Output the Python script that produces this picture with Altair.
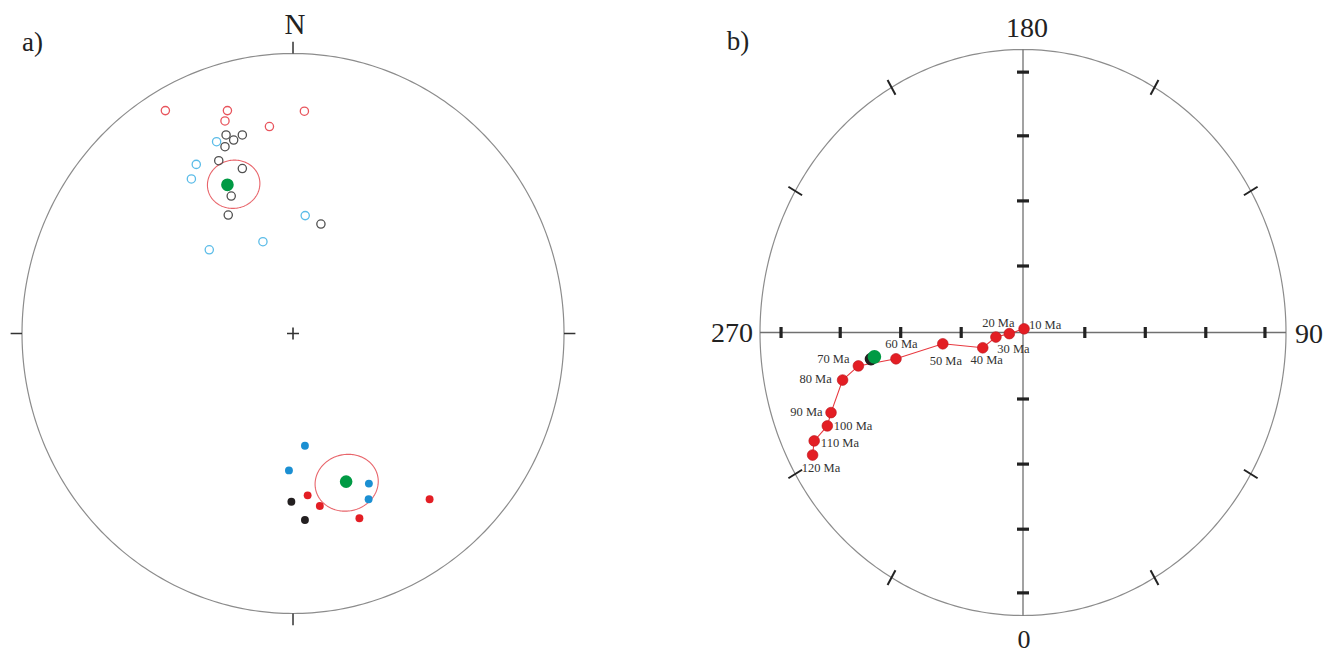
import altair as alt
import numpy as np
import pandas as pd

FONT = "Liberation Serif"

# ---------------- panel a) : site directions (projected coords, unit = net radius) ----
a_red_open_x = [-0.471, -0.242, -0.251, 0.042, -0.087]
a_red_open_y = [0.796, 0.796, 0.759, 0.794, 0.739]
a_gray_open_x = [-0.247, -0.219, -0.187, -0.251, -0.274, -0.187, -0.228, -0.239, 0.103]
a_gray_open_y = [0.709, 0.691, 0.709, 0.667, 0.617, 0.589, 0.491, 0.423, 0.391]
a_blue_open_x = [-0.282, -0.357, -0.375, 0.045, -0.111, -0.309]
a_blue_open_y = [0.685, 0.604, 0.552, 0.421, 0.328, 0.299]
a_blue_fill_x = [0.044, -0.015, 0.280, 0.279]
a_blue_fill_y = [-0.401, -0.489, -0.536, -0.592]
a_red_fill_x = [0.054, 0.099, 0.245, 0.504]
a_red_fill_y = [-0.578, -0.616, -0.660, -0.592]
a_black_fill_x = [-0.006, 0.044]
a_black_fill_y = [-0.601, -0.666]
a_mean_x = [-0.242, 0.196]
a_mean_y = [0.531, -0.529]
a_cone_cx = [-0.219, 0.198]
a_cone_cy = [0.533, -0.533]
a_cone_a = [0.097, 0.117]
a_cone_b = [0.086, 0.101]
a_cone_rot = [8, 10]

# ---------------- panel b) : path (projected coords) ----------------
b_ages = ["10 Ma", "20 Ma", "30 Ma", "40 Ma", "50 Ma", "60 Ma", "70 Ma",
          "80 Ma", "90 Ma", "100 Ma", "110 Ma", "120 Ma"]
b_x = [0.004, -0.052, -0.103, -0.153, -0.305, -0.483, -0.626, -0.686,
       -0.730, -0.744, -0.794, -0.800]
b_y = [0.013, -0.004, -0.016, -0.054, -0.040, -0.093, -0.118, -0.168,
       -0.283, -0.330, -0.383, -0.433]
b_mean_x = [-0.565]
b_mean_y = [-0.086]
b_shadow_x = [-0.578]
b_shadow_y = [-0.094]
b_axis_ticks = [0.235, 0.465, 0.695, 0.92]
b_ring_ticks = [30, 60, 120, 150, 210, 240, 300, 330]
b_dir_labels = ["180", "270", "90", "0"]

# label placement (style, pixels)
b_label_dx = [21, -11, 17.5, 4, 3, 5.5, -25, -27, -24.5, 25.7, 25.7, 8.3]
b_label_dy = [-4, -11, 12, 12, 17, -15, -7, -1, -1, 0, 2, 13]

# ---------------- helpers ----------------
def ring(n=361):
    t = np.linspace(0, 2 * np.pi, n)
    return pd.DataFrame({"x": np.sin(t), "y": np.cos(t), "i": np.arange(n)})


def ellipse(k, cx, cy, a, b, rot, n=181):
    t = np.linspace(0, 2 * np.pi, n)
    r = np.radians(rot)
    ex, ey = a * np.cos(t), b * np.sin(t)
    return pd.DataFrame({
        "x": cx + ex * np.cos(r) - ey * np.sin(r),
        "y": cy + ex * np.sin(r) + ey * np.cos(r),
        "i": np.arange(n), "k": k})


def pts(xs, ys):
    return pd.DataFrame({"x": xs, "y": ys})


# ================= panel a =================
xa = alt.Scale(domain=[-1.0517, 1.1328], nice=False, zero=False)
ya = alt.Scale(domain=[-1.1232, 1.1625], nice=False, zero=False)
XA = alt.X("x:Q", scale=xa, axis=None)
YA = alt.Y("y:Q", scale=ya, axis=None)

a_ring = alt.Chart(ring()).mark_line(color="#8c8c8c", strokeWidth=1.2).encode(
    x=XA, y=YA, order="i:Q")

tl = 0.042
a_ticks_df = pd.DataFrame({"x": [0, 0, 1, -1], "y": [1, -1, 0, 0],
                           "x2": [0, 0, 1 + tl, -1 - tl],
                           "y2": [1 + tl, -1 - tl, 0, 0]})
a_ticks = alt.Chart(a_ticks_df).mark_rule(color="#333333", strokeWidth=1.5).encode(
    x=XA, y=YA, x2="x2:Q", y2="y2:Q")

a_cross = alt.Chart(pts([0], [0])).mark_point(
    shape="M-1,0L1,0M0,-1L0,1", size=144, filled=False,
    stroke="#333333", strokeWidth=1.6, opacity=1).encode(x=XA, y=YA)


def open_layer(xs, ys, col):
    return alt.Chart(pts(xs, ys)).mark_point(
        filled=False, size=68, strokeWidth=1.3, color=col, opacity=1).encode(
        x=XA, y=YA)


def fill_layer(xs, ys, col, size=62):
    return alt.Chart(pts(xs, ys)).mark_circle(
        size=size, color=col, opacity=1).encode(x=XA, y=YA)


a_open = [open_layer(a_red_open_x, a_red_open_y, "#e8545c"),
          open_layer(a_gray_open_x, a_gray_open_y, "#4f4f4f"),
          open_layer(a_blue_open_x, a_blue_open_y, "#5bbce8")]
a_fill = [fill_layer(a_blue_fill_x, a_blue_fill_y, "#1b8fd2"),
          fill_layer(a_red_fill_x, a_red_fill_y, "#e31e24"),
          fill_layer(a_black_fill_x, a_black_fill_y, "#231f20")]

cones = pd.concat([ellipse(k, a_cone_cx[k], a_cone_cy[k], a_cone_a[k],
                           a_cone_b[k], a_cone_rot[k]) for k in range(2)])
a_cones = alt.Chart(cones).mark_line(color="#e8656b", strokeWidth=1.1).encode(
    x=XA, y=YA, order="i:Q", detail="k:N")

a_mean = fill_layer(a_mean_x, a_mean_y, "#009a44", size=160)

a_N = alt.Chart(pts([0], [1])).mark_text(
    text="N", font=FONT, fontSize=29, dy=-29, dx=2, color="#222222",
    baseline="middle").encode(x=XA, y=YA)
a_lab = alt.Chart(pts([-0.961], [1.039])).mark_text(
    text="a)", font=FONT, fontSize=27, color="#222222",
    baseline="middle").encode(x=XA, y=YA)

panel_a = alt.layer(a_ring, a_ticks, a_cross, a_cones, *a_open, *a_fill, a_mean,
                    a_N, a_lab).properties(width=592, height=640)

# ================= panel b =================
xb = alt.Scale(domain=[-1.6084, 1.1483], nice=False, zero=False)
yb = alt.Scale(domain=[-1.1148, 1.1466], nice=False, zero=False)
XB = alt.X("x:Q", scale=xb, axis=None)
YB = alt.Y("y:Q", scale=yb, axis=None)

b_ring = alt.Chart(ring()).mark_line(color="#8c8c8c", strokeWidth=1.2).encode(
    x=XB, y=YB, order="i:Q")

b_axes_df = pd.DataFrame({"x": [-1, 0], "y": [0, -1], "x2": [1, 0], "y2": [0, 1]})
b_axes = alt.Chart(b_axes_df).mark_rule(color="#707070", strokeWidth=1.3).encode(
    x=XB, y=YB, x2="x2:Q", y2="y2:Q")

hx = [s * r for r in b_axis_ticks for s in (1, -1)]
b_hticks = alt.Chart(pts(hx, [0] * len(hx))).mark_point(
    shape="M0,-1L0,1", size=121, filled=False, stroke="#222222",
    strokeWidth=3.2, opacity=1).encode(x=XB, y=YB)
b_vticks = alt.Chart(pts([0] * len(hx), hx)).mark_point(
    shape="M-1,0L1,0", size=144, filled=False, stroke="#222222",
    strokeWidth=3.2, opacity=1).encode(x=XB, y=YB)

rt = np.radians(b_ring_ticks)
rk = 0.03
b_rt_df = pd.DataFrame({"x": (1 - rk) * np.sin(rt), "y": (1 - rk) * np.cos(rt),
                        "x2": (1 + rk) * np.sin(rt), "y2": (1 + rk) * np.cos(rt)})
b_rticks = alt.Chart(b_rt_df).mark_rule(color="#222222", strokeWidth=2).encode(
    x=XB, y=YB, x2="x2:Q", y2="y2:Q")

path_df = pd.DataFrame({"x": b_x, "y": b_y, "age": b_ages, "i": range(len(b_x))})
b_path = alt.Chart(path_df).mark_line(color="#e8383f", strokeWidth=1.1).encode(
    x=XB, y=YB, order="i:Q")
b_pts = alt.Chart(path_df).mark_circle(size=115, color="#e31e24", opacity=1,
                                      stroke="#b8141c", strokeWidth=0.6).encode(
    x=XB, y=YB)
b_shadow = alt.Chart(pts(b_shadow_x, b_shadow_y)).mark_circle(
    size=160, color="#231f20", opacity=1).encode(x=XB, y=YB)
b_mean = alt.Chart(pts(b_mean_x, b_mean_y)).mark_circle(
    size=185, color="#009a44", opacity=1).encode(x=XB, y=YB)

b_labels = []
for k in range(len(b_ages)):
    b_labels.append(
        alt.Chart(path_df.iloc[[k]]).mark_text(
            font=FONT, fontSize=12.5, color="#333333", align="center",
            baseline="middle", dx=b_label_dx[k], dy=b_label_dy[k]).encode(
            x=XB, y=YB, text="age:N"))

dir_pos = {"180": (0, 1, 4, -20, "center", 28), "270": (-1, 0, -7, 1.5, "right", 28),
           "90": (1, 0, 9, 2.5, "left", 28), "0": (0, -1, 1, 24, "center", 26)}
b_dirs = []
for lab in b_dir_labels:
    x0, y0, ddx, ddy, al, fs = dir_pos[lab]
    b_dirs.append(alt.Chart(pts([x0], [y0])).mark_text(
        text=lab, font=FONT, fontSize=fs, color="#222222", align=al,
        baseline="middle", dx=ddx, dy=ddy).encode(x=XB, y=YB))

b_lab = alt.Chart(pts([-1.084], [1.025])).mark_text(
    text="b)", font=FONT, fontSize=27, color="#222222",
    baseline="middle").encode(x=XB, y=YB)

panel_b = alt.layer(b_ring, b_axes, b_hticks, b_vticks, b_rticks, b_path,
                    b_pts, b_shadow, b_mean, *b_labels, *b_dirs,
                    b_lab).properties(width=725, height=640)

chart = alt.hconcat(panel_a, panel_b, spacing=0).properties(
    padding=0, background="white").configure_view(stroke=None)

chart.save("out.html", embed_options={"renderer": "svg", "actions": False})
